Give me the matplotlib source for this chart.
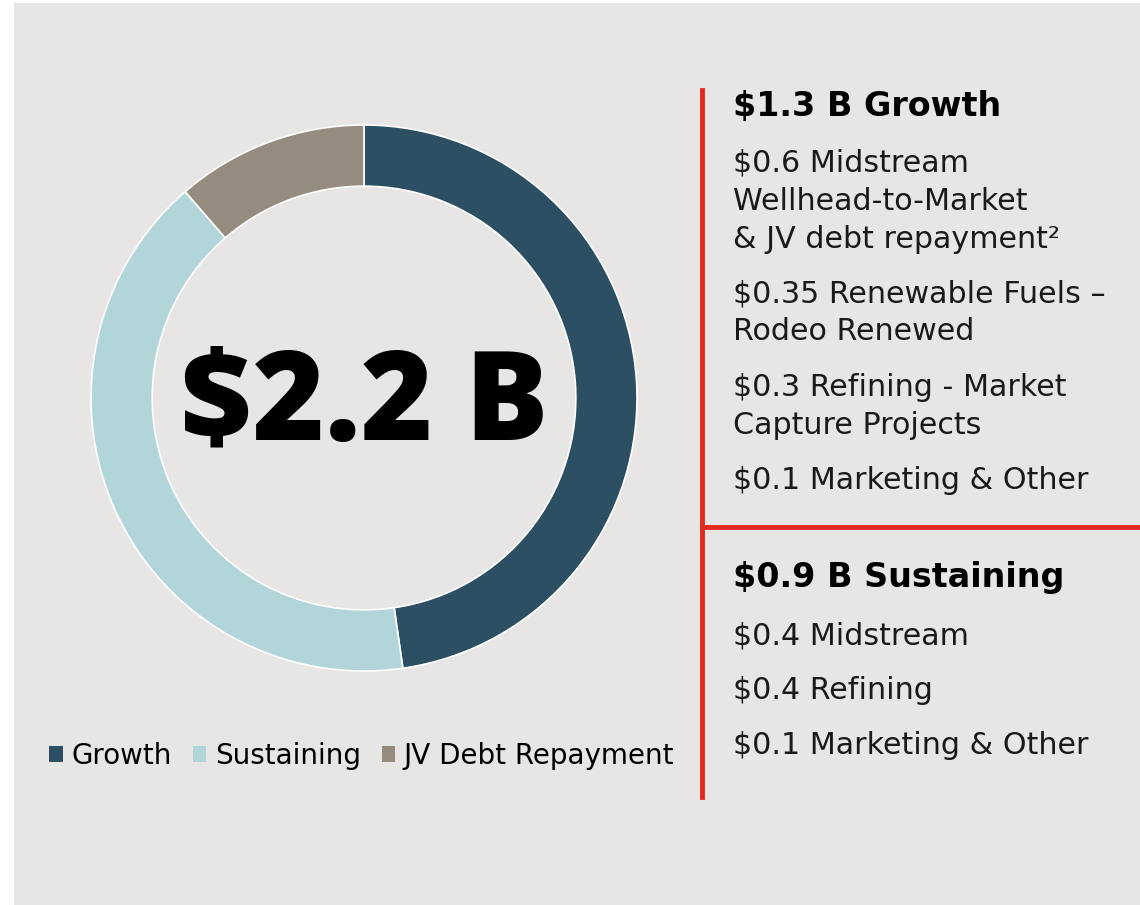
import matplotlib.pyplot as plt
from matplotlib.patches import Rectangle, Patch

# dados do grafico de rosca
categorias = ["Growth", "Sustaining", "JV Debt Repayment"]
valores = [1.05, 0.9, 0.25]
cores = ["#2c4f63", "#b2d5d9", "#958b7f"]
total_label = "$2.2 B"

growth_titulo = "$1.3 B Growth"
growth_itens = ["$0.6 Midstream\nWellhead-to-Market\n& JV debt repayment²",
                "$0.35 Renewable Fuels –\nRodeo Renewed",
                "$0.3 Refining - Market\nCapture Projects",
                "$0.1 Marketing & Other"]
sust_titulo = "$0.9 B Sustaining"
sust_itens = ["$0.4 Midstream", "$0.4 Refining", "$0.1 Marketing & Other"]

W, H = 1140, 905
fundo = "#e8e6e4"
vermelho = "#e32a22"
fonte = "DejaVu Sans"


def fx(px):
    return px / W


def fy(py):
    return 1 - py / H


fig = plt.figure(figsize=(W / 100, H / 100), dpi=100)
fig.patch.set_facecolor("white")
fig.add_artist(Rectangle((fx(14), 0), 1 - fx(14), fy(3), transform=fig.transFigure,
                         facecolor=fundo, edgecolor="none", zorder=0))

# rosca
ax = fig.add_axes([fx(91), fy(671), fx(637) - fx(91), fy(125) - fy(671)])
ax.pie(valores, colors=cores, startangle=90, counterclock=False, radius=1,
       wedgeprops=dict(width=0.224, edgecolor="white", linewidth=1.2))
ax.set_xlim(-1, 1)
ax.set_ylim(-1, 1)
ax.set_aspect("equal")
ax.axis("off")
ax.text(0, -0.035, total_label, ha="center", va="center", fontsize=89,
        fontweight="heavy", family=["Open Sans", "DejaVu Sans"], color="black")

# legenda
handles = [Patch(facecolor=c, edgecolor="none") for c in cores]
fig.legend(handles, categorias, loc="center left", bbox_to_anchor=(fx(38), fy(756)),
           ncol=3, frameon=False, handlelength=0.5, handleheight=0.5,
           handletextpad=0.3, columnspacing=0.75, borderaxespad=0,
           prop=dict(family=fonte, size=20))

# linhas vermelhas
fig.add_artist(plt.Line2D([fx(702), fx(702)], [fy(90), fy(797)], color=vermelho,
                          lw=3.5, transform=fig.transFigure))
fig.add_artist(plt.Line2D([fx(702), 1], [fy(527), fy(527)], color=vermelho,
                          lw=3.5, transform=fig.transFigure))

# textos do lado direito
x0 = fx(733)
passo = 38


def escreve(y, texto):
    for i, linha in enumerate(texto.split("\n")):
        fig.text(x0, fy(y + 1 + i * passo), linha, ha="left", va="center",
                 fontsize=21.7, family=fonte, color="#1a1a1a")


fig.text(x0, fy(106), growth_titulo, ha="left", va="center", fontsize=24,
         fontweight="bold", family=fonte)
for y, t in zip([162, 293, 386, 479], growth_itens):
    escreve(y, t)

fig.text(x0, fy(578), sust_titulo, ha="left", va="center", fontsize=24,
         fontweight="bold", family=fonte)
for y, t in zip([635, 689, 744], sust_itens):
    escreve(y, t)

fig.savefig("out.png", dpi=100, facecolor=fig.get_facecolor())
